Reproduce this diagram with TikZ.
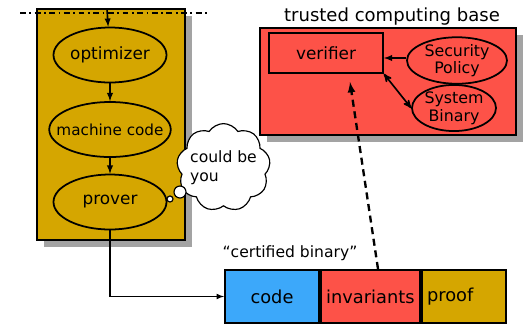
\documentclass[tikz,border=0pt]{standalone}
\usepackage{fontspec}
\setmainfont{DejaVu Sans}
\usepackage{tikz}
\usetikzlibrary{shapes,arrows,shadows}
\definecolor{gold}{RGB}{213,166,0}
\definecolor{tcbred}{RGB}{253,82,72}
\definecolor{codeblue}{RGB}{60,168,250}
\tikzstyle{line} = [draw, -latex']
\tikzstyle{arrow} = [line width=1.4pt,->,>=latex]
\tikzstyle{stage} = [ellipse, draw=black, line width=1.5pt, fill=gold, minimum width=3.39cm, minimum height=1.65cm, inner sep=0pt, font=\large]
\tikzstyle{part} = [rectangle, draw=black, line width=1.6pt, minimum height=1.6cm, font=\fontsize{15.2}{18}\selectfont]
\tikzstyle{shade} = [drop shadow={shadow xshift=0.2cm, shadow yshift=-0.2cm, fill=black!45, opacity=0.8}]

\begin{document}
\begin{tikzpicture}[x=0.03cm, y=-0.03cm]
        \useasboundingbox (0,0) rectangle (523,325);

        % untrusted side
        \node (chain) [rectangle, draw=black, line width=2.4pt, fill=gold, shade, minimum width=4.44cm, minimum height=6.93cm] at (111,124.5) {};
        \draw[line width=1.6pt, dash pattern=on 5pt off 3pt on 1.5pt off 3pt] (20,13) -- (210,13);
        \coordinate (in) at (107,9);
        \node (opt) [stage, font=\Large] at (110,55) {optimizer};
        \node (mc) [stage, inner xsep=-9pt, font=\fontsize{13}{15}\selectfont] at (110,129.5) {machine code};
        \node (prov) [stage, font=\Large] at (110,202) {prover};

        \draw[arrow] (in) -- (opt);
        \draw[arrow] (opt) -- (mc);
        \draw[arrow] (mc) -- (prov);

        % thought bubble
        \node (cloud) [cloud, cloud puffs=9, cloud puff arc=115, aspect=1.1, draw=black, line width=1pt, fill=white, minimum width=2.8cm, minimum height=2.55cm, inner sep=-3pt, align=left, font=\fontsize{13.3}{16}\selectfont] at (223.5,167.5) {could be\\you};
        \node (b1) [circle, draw=black, line width=1pt, fill=white, minimum size=0.36cm, inner sep=0pt] at (180,192) {};
        \node (b2) [circle, draw=black, line width=1pt, fill=white, minimum size=0.18cm, inner sep=0pt] at (170,199) {};

        % trusted computing base
        \node (tcbl) at (392,17) {\fontsize{15.4}{18}\selectfont trusted computing base};
        \node (tcb) [rectangle, draw=black, line width=2.4pt, fill=tcbred, shade, minimum width=7.68cm, minimum height=3.21cm] at (388,81.5) {};
        \node (ver) [rectangle, draw=black, line width=1.6pt, minimum width=3.42cm, minimum height=1.2cm, font=\Large] at (326,53) {verifier};
        \node (sp) [ellipse, draw=black, line width=1.5pt, minimum width=3cm, minimum height=1.29cm, inner sep=0pt, align=center, font=\fontsize{13.5}{15}\selectfont] at (457,60.5) {Security\\Policy};
        \node (sb) [ellipse, draw=black, line width=1.5pt, minimum width=2.52cm, minimum height=1.2cm, inner sep=0pt, align=center, font=\fontsize{13.5}{15}\selectfont] at (454,108) {System\\Binary};
        \coordinate (chk) at (350,82);

        \draw[arrow] (sp.west |- 0,58) -- (ver.east |- 0,58);
        \draw[line width=1.4pt, <->, >=stealth'] (ver.south east) -- (sb.west);

        % certified binary
        \node (cbl) at (290,253) {\fontsize{13.3}{16}\selectfont ``certified binary''};
        \node (code) [part, fill=codeblue, minimum width=2.82cm] at (272,296.5) {code};
        \node (inv) [part, fill=tcbred, minimum width=2.97cm, anchor=west] at (code.east) {invariants};
        \node (proof) [part, fill=gold, minimum width=2.52cm, anchor=west, inner xsep=0.1cm, text width=2.2cm] at (inv.east) {proof};

        \draw[arrow, line width=1.2pt] (prov.south) |- (code.west);
        \draw[arrow, line width=2pt, dash pattern=on 6pt off 4pt] (inv.north -| 378,0) -- (chk);

    \end{tikzpicture}
\end{document}
